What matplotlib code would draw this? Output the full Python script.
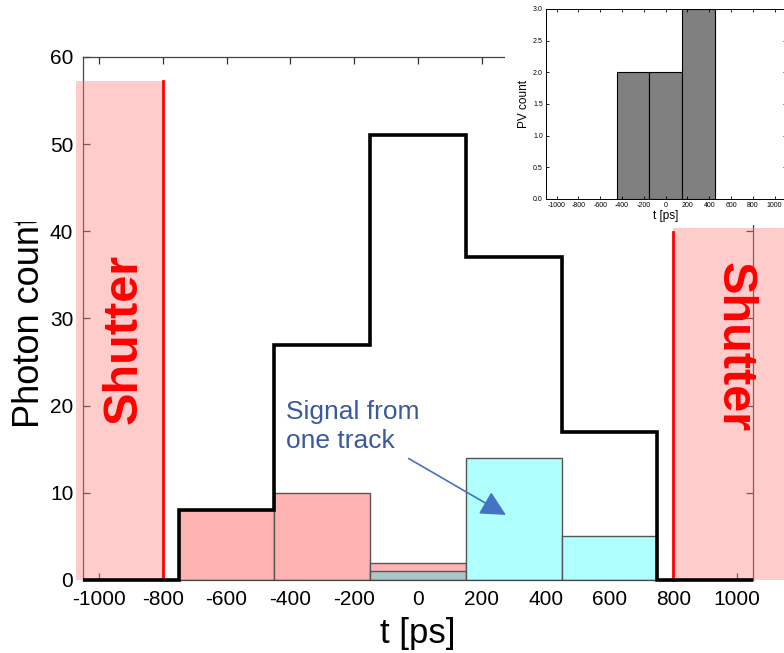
import numpy as np
import matplotlib
matplotlib.use('Agg')
import matplotlib.pyplot as plt
from matplotlib.patches import Rectangle

plt.rcParams['font.family'] = ['Liberation Sans', 'DejaVu Sans']
plt.rcParams['axes.unicode_minus'] = False

# photon-count histogram (300 ps bins)
edges = [-1050, -750, -450, -150, 150, 450, 750, 1050]
total = [0, 8, 27, 51, 37, 17, 0]

# bars of the highlighted track
pink_left = [-750, -450, -150]
pink_counts = [8, 10, 2]
grey_left = [-150]
grey_counts = [1]
cyan_left = [150, 450]
cyan_counts = [14, 5]
bin_w = 300

# shutter windows
shutter_l = (-1072, -800, 57.2)
shutter_r = (800, 1150, 40.4)

# primary-vertex histogram (inset)
pv_edges = [-450, -150, 150, 450]
pv_counts = [2, 2, 3]

xticks = np.arange(-1000, 1001, 200)

fig = plt.figure(figsize=(7.84, 6.53), dpi=100)
ax = fig.add_axes([0.1059, 0.1118, 0.8546, 0.801])

ax.bar(pink_left, pink_counts, width=bin_w, align='edge', color='#ffb3b3',
       edgecolor='#555555', linewidth=1, zorder=2)
ax.bar(grey_left, grey_counts, width=bin_w, align='edge', color='#aac6c6',
       edgecolor='#555555', linewidth=1, zorder=2)
ax.bar(cyan_left, cyan_counts, width=bin_w, align='edge', color='#b0ffff',
       edgecolor='#555555', linewidth=1, zorder=2)

# shutters (drawn over the spines)
for x0, x1, top in (shutter_l, shutter_r):
    ax.add_patch(Rectangle((x0, 0), x1 - x0, top, facecolor='#ff8080', alpha=0.4,
                           edgecolor='none', clip_on=False, zorder=3))
ax.plot([-800, -800], [0, shutter_l[2]], color='red', lw=2, zorder=4)
ax.plot([800, 800], [0, 39.9], color='red', lw=2, zorder=4, clip_on=False)
ax.text(-921, 27.6, 'Shutter', rotation=90, color='red', fontsize=35,
        fontweight='bold', ha='center', va='center', zorder=4)
ax.text(990, 26.7, 'Shutter', rotation=-90, color='red', fontsize=35,
        fontweight='bold', ha='center', va='center', zorder=4)

ax.stairs(total, edges, color='black', lw=2.6, zorder=5, clip_on=False)

ax.text(-413, 20.7, 'Signal from\none track', color='#3a5a9c', fontsize=19,
        ha='left', va='top', linespacing=1.3)
ax.annotate('', xy=(283, 7.3), xytext=(-37, 14.1),
            arrowprops=dict(arrowstyle='-|>,head_length=0.55,head_width=0.28',
                            color='#4472c4', lw=1.2, mutation_scale=28))

ax.set_xlim(-1050, 1050)
ax.set_ylim(0, 60)
ax.set_xticks(xticks)
ax.set_yticks(np.arange(0, 61, 10))
ax.tick_params(direction='in', length=5, width=0.9, labelsize=15,
               top=True, right=True, color='#333333', pad=7)
for s in ax.spines.values():
    s.set_color('#444444')
    s.set_linewidth(0.9)
ax.set_xlabel('t [ps]', fontsize=25, labelpad=6)
fig.text(0.038, 0.507, 'Photon count', rotation=90, fontsize=26,
         ha='center', va='center', zorder=1)
# crop the top of the y label
fig.add_artist(Rectangle((0, 1 - 222 / 653), 0.062, 70 / 653, transform=fig.transFigure,
                         facecolor='white', edgecolor='none', zorder=4))

# white panel for the inset
fig.add_artist(Rectangle((0.644, 0.655), 0.36, 0.35, transform=fig.transFigure,
                         facecolor='white', edgecolor='none', zorder=1))

ins = fig.add_axes([0.696, 0.6953, 0.306, 0.291], zorder=2)
ins.bar(pv_edges[:-1], pv_counts, width=np.diff(pv_edges), align='edge',
        color='#808080', edgecolor='black', linewidth=0.8)
ins.set_xlim(-1100, 1100)
ins.set_ylim(0, 3)
ins.set_xticks(xticks)
ins.set_yticks(np.arange(0, 3.01, 0.5))
ins.set_yticklabels([f'{v:.1f}' for v in np.arange(0, 3.01, 0.5)])
ins.tick_params(direction='in', length=2.5, width=0.6, labelsize=5,
                top=True, right=True, pad=2)
for s in ins.spines.values():
    s.set_linewidth(0.7)
ins.set_xlabel('t [ps]', fontsize=8.5, labelpad=1)
ins.set_ylabel('PV count', fontsize=8.5, labelpad=2)

fig.savefig('out.png', dpi=100)
